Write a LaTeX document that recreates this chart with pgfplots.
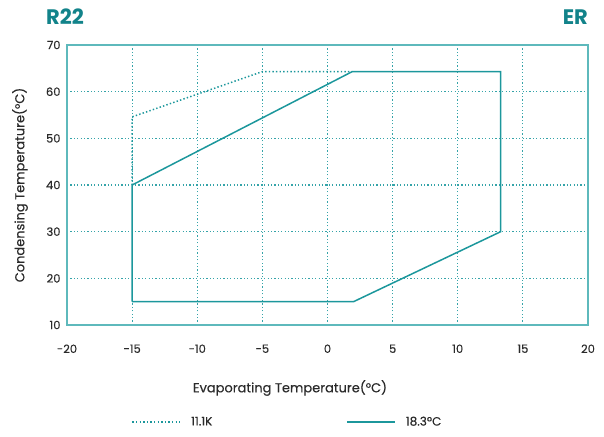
\documentclass[border=0pt]{standalone}
\usepackage{pgfplots}
\pgfplotsset{compat=1.18}
\usepackage{fontspec}
\setmainfont{Poppins}
\newfontfamily\pmed[FakeBold=0.3]{Poppins}
\definecolor{titleteal}{HTML}{12838A}
\definecolor{lineteal}{HTML}{1C979C}
\definecolor{frameteal}{HTML}{5EB9BC}
\definecolor{gridteal}{HTML}{35A4A9}
\definecolor{txt}{HTML}{2A2A2A}
\begin{document}
\begin{tikzpicture}
\path[use as bounding box] (-67bp,-112bp) rectangle (537bp,325bp);
\begin{axis}[
  at={(0bp,0bp)}, anchor=south west,
  scale only axis, width=521bp, height=280bp,
  xmin=-20, xmax=20, ymin=10, ymax=70,
  xtick={-20,-15,...,20}, ytick={10,20,...,70},
  major tick length=0pt,
  axis line style={frameteal, line width=1.2bp},
  grid=major,
  major grid style={gridteal, line width=1.2bp, dash pattern=on 1.2bp off 2.2bp},
  /pgf/number format/assume math mode=true,
  ticklabel style={font=\pmed\fontsize{11.5bp}{13bp}\selectfont, text=txt},
  xticklabel style={yshift=-16bp},
  yticklabel style={xshift=-3bp},
  label style={font=\pmed\fontsize{13bp}{15bp}\selectfont, text=txt},
  xlabel={Evaporating Temperature(°C)},
  ylabel={Condensing Temperature(°C)},
  xlabel style={at={(axis description cs:0.428,-0.225)}, anchor=center},
  ylabel style={at={(axis description cs:-0.0902,0.5)}, anchor=center},
  legend columns=2,
  legend style={at={(axis description cs:0.118,-0.346)}, anchor=west, draw=none, fill=none,
    font=\pmed\fontsize{12bp}{14bp}\selectfont, text=txt,
    /tikz/every odd column/.append style={column sep=8bp},
    /tikz/column 2/.style={column sep=132bp}},
  legend image code/.code={\draw[#1] (0bp,0bp) -- (48bp,0bp);},
]
\addplot[lineteal, line width=1.5bp, dash pattern=on 1.4bp off 2.2bp] coordinates {(-15,40) (-15,54.6) (-5,64.3) (1.9,64.3)};
\addlegendentry{11.1K}
\addplot[lineteal, line width=1.5bp] coordinates {(-15,15) (-15,40) (1.9,64.3) (13.3,64.3) (13.3,30) (2,15) (-15,15)};
\addlegendentry{18.3ºC}
\end{axis}
\node[anchor=west, font=\fontsize{21bp}{23bp}\selectfont\bfseries, text=titleteal, inner sep=0pt] at (-21bp,308bp) {R22};
\node[anchor=east, font=\fontsize{21bp}{23bp}\selectfont\bfseries, text=titleteal, inner sep=0pt] at (521bp,308bp) {ER};
\end{tikzpicture}
\end{document}
